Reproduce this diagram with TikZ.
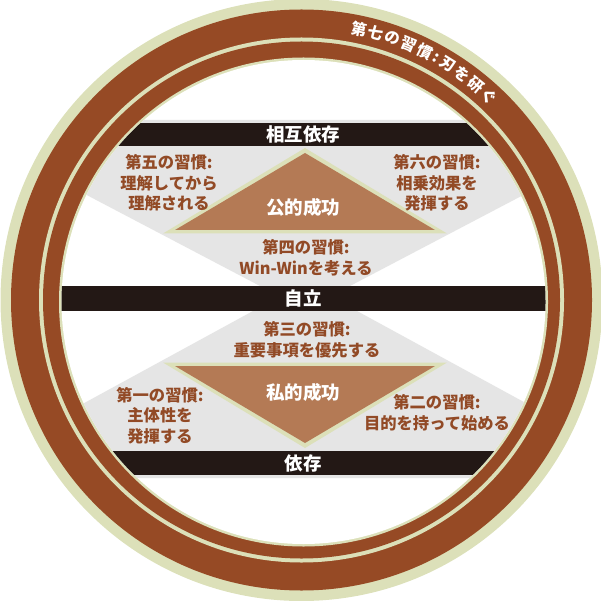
\documentclass[tikz,border=0pt]{standalone}
\usepackage{fontspec}
\setmainfont{Noto Sans CJK JP}
\definecolor{rbrown}{HTML}{964A25}
\definecolor{lgreen}{HTML}{DCE0B9}
\definecolor{lgray}{HTML}{E5E5E5}
\definecolor{bblack}{HTML}{231815}
\definecolor{tfill}{HTML}{B47A55}
\definecolor{tbrown}{HTML}{924A26}
\begin{document}
\begin{tikzpicture}[x=1pt,y=-1pt,
  habit/.style={text=tbrown,font=\fontsize{16.3}{20.5}\selectfont\bfseries,align=center,inner sep=0pt},
  wlabel/.style={text=white,font=\fontsize{18.5}{20}\selectfont\bfseries,inner sep=0pt},
  ringch/.style={text=white,font=\fontsize{15.5}{16}\selectfont\bfseries,inner sep=0pt}]
\useasboundingbox (0,0) rectangle (601,601);
% rings
\fill[lgreen] (301.5,300) circle[radius=301pt];
\fill[rbrown] (301.5,300) circle[radius=290.5pt];
\fill[lgreen] (301.5,300) circle[radius=262.5pt];
\fill[rbrown] (301.5,300) circle[radius=258.5pt];
\fill[lgreen] (303.5,302) circle[radius=244.5pt];
\fill[white] (303.5,302) circle[radius=242pt];
% inner
\begin{scope}
\clip (303.5,302) circle[radius=242pt];
\fill[lgray] (260,286) -- (0,149.5) -- (0,120) -- (610,120) -- (610,149.5) -- (350,286) -- cycle;
\fill[lgray] (253,311) -- (0,449) -- (0,478) -- (610,478) -- (610,449) -- (357,311) -- cycle;
\fill[bblack] (0,123) rectangle (610,146);
\fill[bblack] (0,286) rectangle (610,311);
\fill[bblack] (0,451) rectangle (610,475);
\end{scope}
% triangles
\fill[lgreen] (163,233.5) -- (447,233.5) -- (305,148) -- cycle;
\fill[tfill] (175,230) -- (435,230) -- (305,153) -- cycle;
\fill[lgreen] (163,362.5) -- (447,362.5) -- (305,448) -- cycle;
\fill[tfill] (175,366) -- (435,366) -- (305,443) -- cycle;
% labels
\node[wlabel] (t1) at (303,134.5) {相互依存};
\node[habit] (h5) at (169,183) {第五の習慣:\\理解してから\\理解される};
\node[habit] (h6) at (437,183) {第六の習慣:\\相乗効果を\\発揮する};
\node[wlabel] (p1) at (303,207) {公的成功};
\node[habit] (h4) at (306,257.5) {第四の習慣:\\Win-Winを考える};
\node[wlabel] (t2) at (303,298.5) {自立};
\node[habit] (h3) at (307,340) {第三の習慣:\\重要事項を優先する};
\node[wlabel] (p2) at (303,392) {私的成功};
\node[habit] (h1) at (160,415.5) {第一の習慣:\\主体性を\\発揮する};
\node[habit] (h2) at (437,413) {第二の習慣:\\目的を持って始める};
\node[wlabel] (t3) at (303,463) {依存};
% ring text
\foreach \ch/\a [count=\i] in {第/78,七/74.4,の/70.8,習/67.2,慣/63.6,:/60.9,刃/58.2,を/54.6,研/51,ぐ/47.4}
  \node[ringch,rotate=\a-90] (r\i) at ({301.5+277*cos(\a)},{300-277*sin(\a)}) {\ch};
\end{tikzpicture}
\end{document}
